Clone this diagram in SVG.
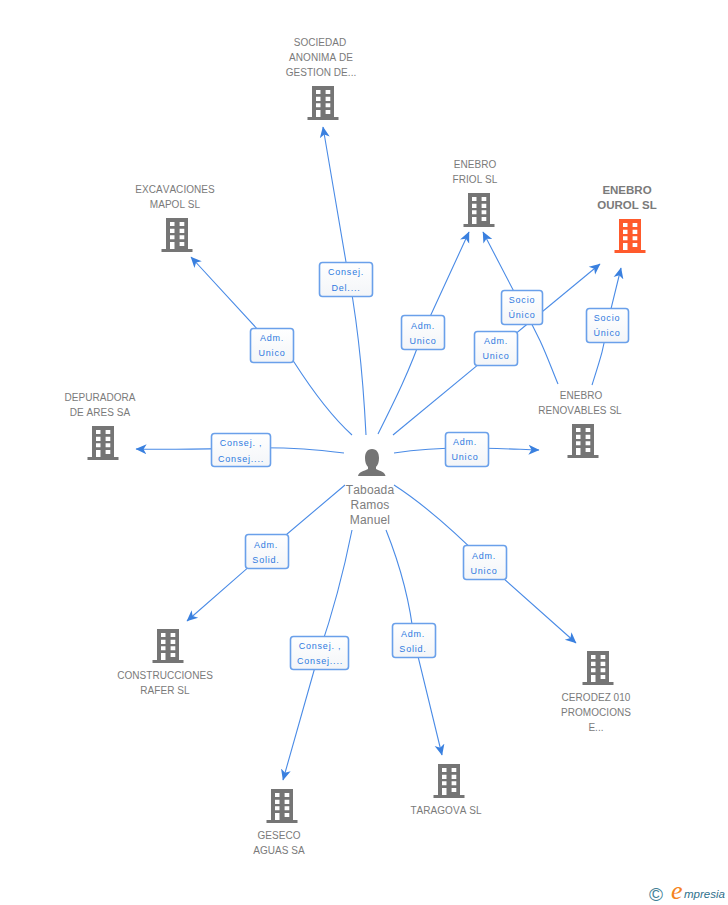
<svg xmlns="http://www.w3.org/2000/svg" width="728" height="905" viewBox="0 0 728 905">
<style>
text{font-family:"Liberation Sans",Arial,sans-serif;font-kerning:none}
.n{font-size:10px;letter-spacing:.05px;fill:#7a7a7a;text-anchor:middle}
.b{font-size:12px;letter-spacing:.15px;fill:#7d7d7d;text-anchor:middle}
.h{font-size:11.5px;font-weight:bold;fill:#7a7a7a;text-anchor:middle}
.l{font-size:9px;letter-spacing:.8px;fill:#2f7ae0;text-anchor:middle}
.c{fill:none;stroke:#4a8be6;stroke-width:1.1}
.r{fill:url(#bg);stroke:#6aa0ea;stroke-width:1.6}
</style>
<defs>
<linearGradient id="bg" x1="0" y1="0" x2="0" y2="1"><stop offset="0" stop-color="#ffffff"/><stop offset="1" stop-color="#f3f5f8"/></linearGradient>
<marker id="a" viewBox="0 0 12 12" refX="10.500" refY="6" markerWidth="12" markerHeight="12" markerUnits="userSpaceOnUse" orient="auto"><path d="M0 1 L11 6 L0 11 L3 6Z" fill="#3a80df"/></marker>
<g id="bld">
<path fill-rule="evenodd" d="M-11 0H11V31H15.500V34H-15.500V31H-11ZM-7 4V8H-2.500V4ZM2.600 4V8H7.300V4ZM-7 10.700V15H-2.500V10.700ZM2.600 10.700V15H7.300V10.700ZM-7 17.300V21.300H-2.500V17.300ZM2.600 17.300V21.300H7.300V17.300ZM-7 24V31H-2.500V24ZM2.600 24V28H7.300V24Z"/>
</g>
</defs>
<g id="connectors">
<path class="c" marker-end="url(#a)" d="M366 435C363 375 358 320 346 262L323 127"/>
<path class="c" marker-end="url(#a)" d="M352 435C330 415 310 387 294 362L272 345L191 257"/>
<path class="c" marker-end="url(#a)" d="M344 453C320 450 295 447 241 448C200 449 170 450 136 449"/>
<path class="c" marker-end="url(#a)" d="M378 434C395 400 410 370 423 332L469 232"/>
<path class="c" marker-end="url(#a)" d="M393 435L600 264"/>
<path class="c" marker-end="url(#a)" d="M558 384C548 360 542 340 522 307L483 232"/>
<path class="c" marker-end="url(#a)" d="M592 385C600 360 605 345 607 325L621 268"/>
<path class="c" marker-end="url(#a)" d="M394 453C420 449 440 448 467 448C490 448 510 449 539 450"/>
<path class="c" marker-end="url(#a)" d="M345 485L267 551L187 621"/>
<path class="c" marker-end="url(#a)" d="M352 530C343 575 332 615 319 653L283 780"/>
<path class="c" marker-end="url(#a)" d="M386 530C400 565 410 600 414 640L442 755"/>
<path class="c" marker-end="url(#a)" d="M394 485C425 505 455 532 485 562L576 643"/>
</g>
<g id="edge-labels">
<g><rect class="r" x="319.500" y="262.500" width="53" height="34" rx="3"/><text class="l" x="346" y="275">Consej.</text><text class="l" x="346" y="291">Del....</text></g>
<g><rect class="r" x="250.500" y="328.500" width="43" height="34" rx="3"/><text class="l" x="272" y="341">Adm.</text><text class="l" x="272" y="356">Unico</text></g>
<g><rect class="r" x="211.500" y="433.500" width="59" height="33" rx="3"/><text class="l" x="241" y="446">Consej. ,</text><text class="l" x="241" y="462">Consej....</text></g>
<g><rect class="r" x="401.500" y="315.500" width="43" height="34" rx="3"/><text class="l" x="423" y="329">Adm.</text><text class="l" x="423" y="344">Unico</text></g>
<g><rect class="r" x="474.500" y="331.500" width="43" height="34" rx="3"/><text class="l" x="496" y="344">Adm.</text><text class="l" x="496" y="359">Unico</text></g>
<g><rect class="r" x="501.500" y="290.500" width="41" height="34" rx="3"/><text class="l" x="522" y="303">Socio</text><text class="l" x="522" y="318">Único</text></g>
<g><rect class="r" x="586.500" y="308.500" width="42" height="34" rx="3"/><text class="l" x="607" y="321">Socio</text><text class="l" x="607" y="336">Único</text></g>
<g><rect class="r" x="445.500" y="432.500" width="43" height="34" rx="3"/><text class="l" x="465" y="445">Adm.</text><text class="l" x="465" y="460">Unico</text></g>
<g><rect class="r" x="245.500" y="534.500" width="43" height="34" rx="3"/><text class="l" x="266" y="548">Adm.</text><text class="l" x="266" y="563">Solid.</text></g>
<g><rect class="r" x="290.500" y="636.500" width="58" height="33" rx="3"/><text class="l" x="320" y="649">Consej. ,</text><text class="l" x="320" y="664">Consej....</text></g>
<g><rect class="r" x="392.500" y="623.500" width="43" height="34" rx="3"/><text class="l" x="413" y="637">Adm.</text><text class="l" x="413" y="652">Solid.</text></g>
<g><rect class="r" x="463.500" y="545.500" width="43" height="34" rx="3"/><text class="l" x="484" y="559">Adm.</text><text class="l" x="484" y="574">Unico</text></g>
</g>
<g id="person">
<path fill="#757575" d="M372 449C367 449 365 453 365 458C365 462 366 465 368 467V469C364 471 358.500 472 358 476H385.500C385 472 380 471 376 469V467C378 465 379 462 379 458C379 453 377 449 372 449Z"/>
<text class="b"><tspan x="370" y="494">Taboada</tspan><tspan x="370" y="509">Ramos</tspan><tspan x="370" y="524">Manuel</tspan></text>
</g>
<g id="sociedad"><text class="n"><tspan x="320" y="46">SOCIEDAD</tspan><tspan x="321" y="61">ANONIMA DE</tspan><tspan x="321" y="76">GESTION DE...</tspan></text><use href="#bld" x="323" y="86" fill="#757575"/></g>
<g id="excavaciones"><text class="n"><tspan x="175" y="193">EXCAVACIONES</tspan><tspan x="175" y="208">MAPOL SL</tspan></text><use href="#bld" x="177" y="218" fill="#757575"/></g>
<g id="friol"><text class="n"><tspan x="475" y="168">ENEBRO</tspan><tspan x="475" y="183">FRIOL SL</tspan></text><use href="#bld" x="479" y="193" fill="#757575"/></g>
<g id="ourol"><text class="h"><tspan x="627" y="194">ENEBRO</tspan><tspan x="627" y="209">OUROL SL</tspan></text><use href="#bld" x="630" y="219" fill="#ff5a2c"/></g>
<g id="depuradora"><text class="n"><tspan x="100" y="401">DEPURADORA</tspan><tspan x="100" y="416">DE ARES SA</tspan></text><use href="#bld" x="103" y="426" fill="#757575"/></g>
<g id="renovables"><text class="n"><tspan x="581" y="399">ENEBRO</tspan><tspan x="580" y="414">RENOVABLES SL</tspan></text><use href="#bld" x="583" y="424" fill="#757575"/></g>
<g id="construcciones"><use href="#bld" x="168" y="629" fill="#757575"/><text class="n"><tspan x="165" y="679">CONSTRUCCIONES</tspan><tspan x="165" y="694">RAFER SL</tspan></text></g>
<g id="cerodez"><use href="#bld" x="598" y="651" fill="#757575"/><text class="n"><tspan x="596" y="701">CERODEZ 010</tspan><tspan x="596" y="716">PROMOCIONS</tspan><tspan x="596" y="731">E...</tspan></text></g>
<g id="taragova"><use href="#bld" x="449" y="764" fill="#757575"/><text class="n" x="446" y="814">TARAGOVA SL</text></g>
<g id="geseco"><use href="#bld" x="282" y="789" fill="#757575"/><text class="n"><tspan x="279" y="839">GESECO</tspan><tspan x="279" y="854">AGUAS SA</tspan></text></g>
<g id="logo">
<text x="649" y="901" font-size="19" fill="#3f7f96">©</text>
<text x="671" y="899" font-size="26" font-style="italic" fill="#f58220" style="font-family:'Liberation Serif',serif">e</text>
<text x="684" y="898" font-size="11.500" font-style="italic" fill="#2f6f8c">mpresia</text>
</g>
</svg>
